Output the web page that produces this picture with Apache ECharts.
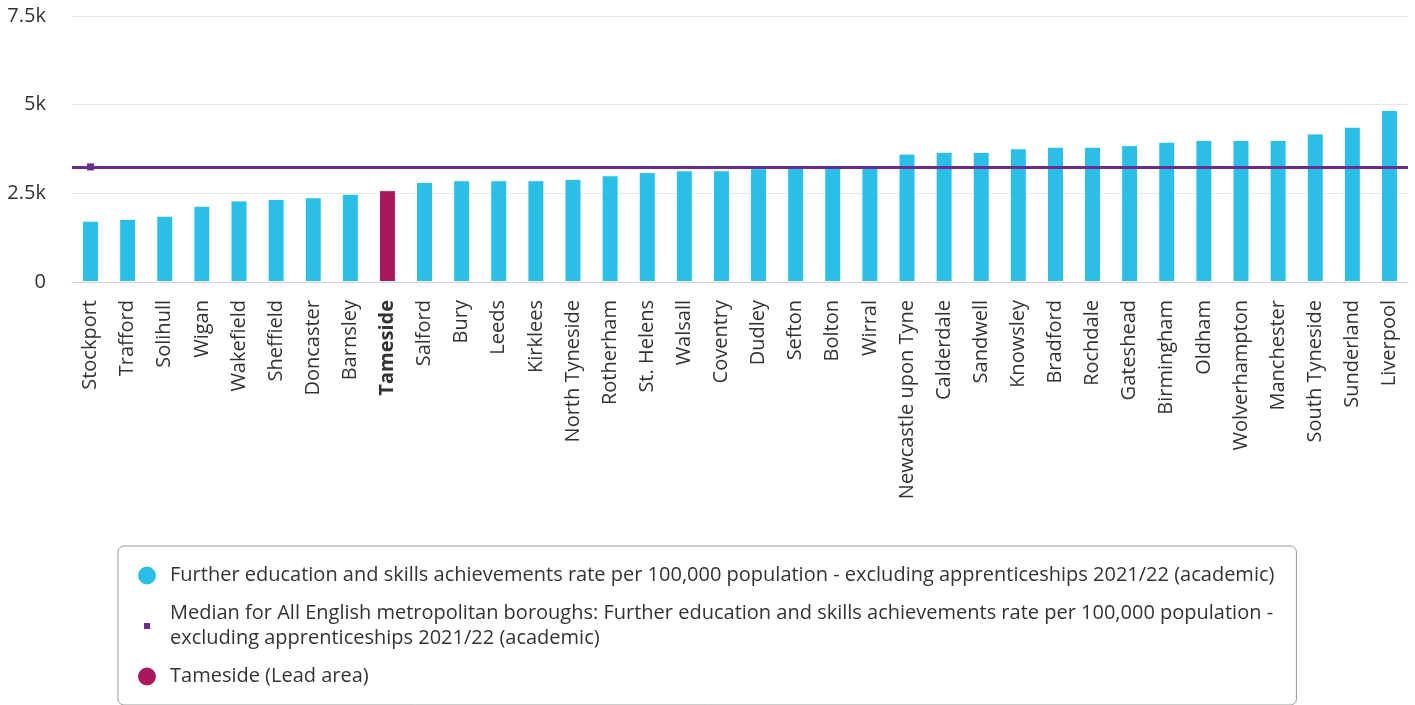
<!DOCTYPE html>
<html>
<head>
<meta charset="utf-8">
<script src="https://cdn.jsdelivr.net/npm/echarts@6/dist/echarts.min.js"></script>
<style>
  html, body { margin: 0; padding: 0; background: #fff; }
  #chart { width: 1415px; height: 705px; }
</style>
</head>
<body>
<div id="chart"></div>
<script>
// areas, sorted low to high
const categories = [
  'Stockport', 'Trafford', 'Solihull', 'Wigan', 'Wakefield', 'Sheffield', 'Doncaster', 'Barnsley',
  'Tameside', 'Salford', 'Bury', 'Leeds', 'Kirklees', 'North Tyneside', 'Rotherham', 'St. Helens',
  'Walsall', 'Coventry', 'Dudley', 'Sefton', 'Bolton', 'Wirral', 'Newcastle upon Tyne', 'Calderdale',
  'Sandwell', 'Knowsley', 'Bradford', 'Rochdale', 'Gateshead', 'Birmingham', 'Oldham',
  'Wolverhampton', 'Manchester', 'South Tyneside', 'Sunderland', 'Liverpool'
]
const rateValues = [
  1730, 1780, 1870, 2150, 2300, 2340, 2390, 2490,
  2590, 2820, 2870, 2870, 2870, 2910, 3010, 3100,
  3150, 3150, 3210, 3220, 3225, 3235, 3620, 3670,
  3670, 3770, 3815, 3815, 3860, 3955, 4005,
  4005, 4005, 4190, 4380, 4850
]
const medianValue = 3245
const leadArea = 'Tameside'
const yTicks = [0, 2500, 5000, 7500]

const seriesName = 'Further education and skills achievements rate per 100,000 population - excluding apprenticeships 2021/22 (academic)'
const medianName = 'Median for All English metropolitan boroughs: Further education and skills achievements rate per 100,000 population - excluding apprenticeships 2021/22 (academic)'
const leadName = 'Tameside (Lead area)'

const leadIdx = categories.indexOf(leadArea)
const mainData = rateValues.map((v, i) => i === leadIdx ? null : v)
const leadData = rateValues.map((v, i) => i === leadIdx ? v : null)

// small square legend marker for the median line
const squareIcon = 'image://data:image/svg+xml;utf8,' + encodeURIComponent(
  '<svg xmlns="http://www.w3.org/2000/svg" width="20" height="20"><rect x="7" y="7" width="6" height="6" fill="#6b2c8f"/></svg>')

const chart = echarts.init(document.getElementById('chart'))

chart.setOption({
  animation: false,
  textStyle: { fontFamily: '"Open Sans", sans-serif' },
  grid: { left: 72, right: 7, top: 16, bottom: 423 },
  legend: {
    orient: 'vertical',
    left: 118,
    top: 546,
    padding: [17, 22, 16, 18],
    itemGap: 13,
    itemWidth: 20,
    itemHeight: 20,
    borderColor: '#999',
    borderWidth: 1,
    borderRadius: 6,
    textStyle: { fontSize: 20, color: '#333', lineHeight: 25, padding: [0, 0, 0, 8] },
    formatter: function (name) {
      if (name === medianName) {
        return 'Median for All English metropolitan boroughs: Further education and skills achievements rate per 100,000 population -\nexcluding apprenticeships 2021/22 (academic)'
      }
      return name
    },
    data: [
      { name: seriesName, icon: 'circle' },
      { name: medianName, icon: squareIcon },
      { name: leadName, icon: 'circle' }
    ]
  },
  xAxis: {
    type: 'category',
    data: categories,
    axisLine: { lineStyle: { color: '#ccd6eb', width: 1 } },
    axisTick: { show: false },
    axisLabel: {
      interval: 0,
      rotate: 90,
      margin: 18,
      fontSize: 20,
      color: '#333',
      formatter: function (v) {
        return v === leadArea ? '{b|' + v + '}' : v
      },
      rich: { b: { fontWeight: 'bold', fontSize: 20, color: '#333' } }
    }
  },
  yAxis: {
    type: 'value',
    min: yTicks[0],
    max: yTicks[yTicks.length - 1],
    interval: 2500,
    axisLine: { show: false },
    axisTick: { show: false },
    splitLine: { lineStyle: { color: '#e6e6e6', width: 1 } },
    axisLabel: {
      margin: 26,
      fontSize: 20,
      color: '#333',
      formatter: function (v) {
        return v === 0 ? '0' : (v / 1000) + 'k'
      }
    }
  },
  series: [
    {
      name: seriesName,
      type: 'bar',
      data: mainData,
      barWidth: 17,
      barGap: '-100%',
      itemStyle: { color: '#2bbfe8', borderColor: '#fff', borderWidth: 1 }
    },
    {
      name: leadName,
      type: 'bar',
      data: leadData,
      barWidth: 17,
      barGap: '-100%',
      itemStyle: { color: '#a8185a', borderColor: '#fff', borderWidth: 1 }
    },
    {
      name: medianName,
      type: 'line',
      data: categories.map((c, i) => i === 0 ? medianValue : null),
      symbol: 'rect',
      symbolSize: 7,
      itemStyle: { color: '#6b2c8f' },
      lineStyle: { color: '#6b2c8f', width: 3 },
      z: 5,
      markLine: {
        silent: true,
        symbol: ['none', 'none'],
        label: { show: false },
        lineStyle: { color: '#6b2c8f', width: 3, type: 'solid' },
        data: [{ yAxis: medianValue }]
      }
    }
  ]
})
</script>
</body>
</html>
